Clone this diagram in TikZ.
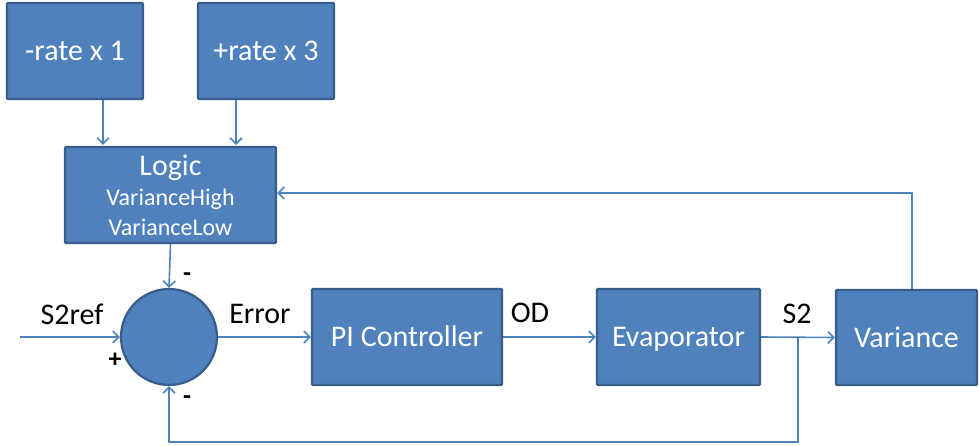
\documentclass[tikz,border=0pt]{standalone}
\usepackage{fontspec}
\setmainfont{Carlito}
\usetikzlibrary{arrows.meta}
\definecolor{boxfill}{HTML}{4F81BD}
\definecolor{boxline}{HTML}{385D8A}
\definecolor{wire}{HTML}{4F81BD}
\begin{document}
\begin{tikzpicture}[x=1pt,y=-1pt,
  blk/.style={draw=boxline,line width=2.2pt,fill=boxfill,text=white,rounded corners=1pt,font=\fontsize{30}{33}\selectfont,inner sep=0pt,text height=19pt,text depth=0pt},
  wire/.style={draw=wire,line width=1.6pt},
  arr/.style={wire,-{Straight Barb[length=6pt,width=12pt,line width=1.6pt]}},
  lab/.style={font=\fontsize{30}{33}\selectfont,text=black,inner sep=0pt},
  sgn/.style={font=\fontsize{26}{28}\selectfont\bfseries,text=black,inner sep=0pt}]
\useasboundingbox (0,0) rectangle (979,446);
\node[blk,minimum width=136pt,minimum height=96pt] (r1) at (75,51) {-rate x 1};
\node[blk,minimum width=136pt,minimum height=96pt] (r3) at (266,51) {+rate x 3};
\node[blk,minimum width=211pt,minimum height=96pt,align=center,text height=,text depth=] (logic) at (170.5,195)
  {Logic\\[-3pt]{\fontsize{24}{28}\selectfont VarianceHigh}\\[-3pt]{\fontsize{24}{28}\selectfont VarianceLow}};
\node[draw=boxline,line width=2.2pt,fill=boxfill,circle,minimum size=96pt,inner sep=0pt] (sum) at (169,337) {};
\node[blk,minimum width=190pt,minimum height=96pt] (pi) at (407,337) {PI Controller};
\node[blk,minimum width=163pt,minimum height=96pt] (evap) at (678.5,337) {Evaporator};
\node[blk,minimum width=141pt,minimum height=95pt] (var) at (906.5,337.5) {Variance};
\coordinate (in) at (20,337);
\coordinate (br) at (798,337);
\coordinate (bot) at (798,442);
\coordinate (vtop) at (912,193);
\draw[arr] (r1.south -| 103,0) -- (103,145);
\draw[arr] (r3.south -| 236,0) -- (236,145);
\draw[arr] (logic.south) -- (sum.north);
\draw[arr] (in) -- (sum.west);
\draw[arr] (sum.east) -- (pi.west);
\draw[arr] (pi.east) -- (evap.west);
\draw[arr] (evap.east) -- (var.west);
\draw[arr] (br) -- (bot) -| (sum.south);
\draw[arr] (var.north -| vtop) -- (vtop) -- (logic.east |- vtop);
\node[lab] at (72,314) {S2ref};
\node[lab] at (260,314) {Error};
\node[lab] at (530,313) {OD};
\node[lab] at (797,314) {S2};
\node[sgn] at (115,360) {+};
\node[sgn] at (187,277) {-};
\node[sgn] at (187,400) {-};
\end{tikzpicture}
\end{document}
